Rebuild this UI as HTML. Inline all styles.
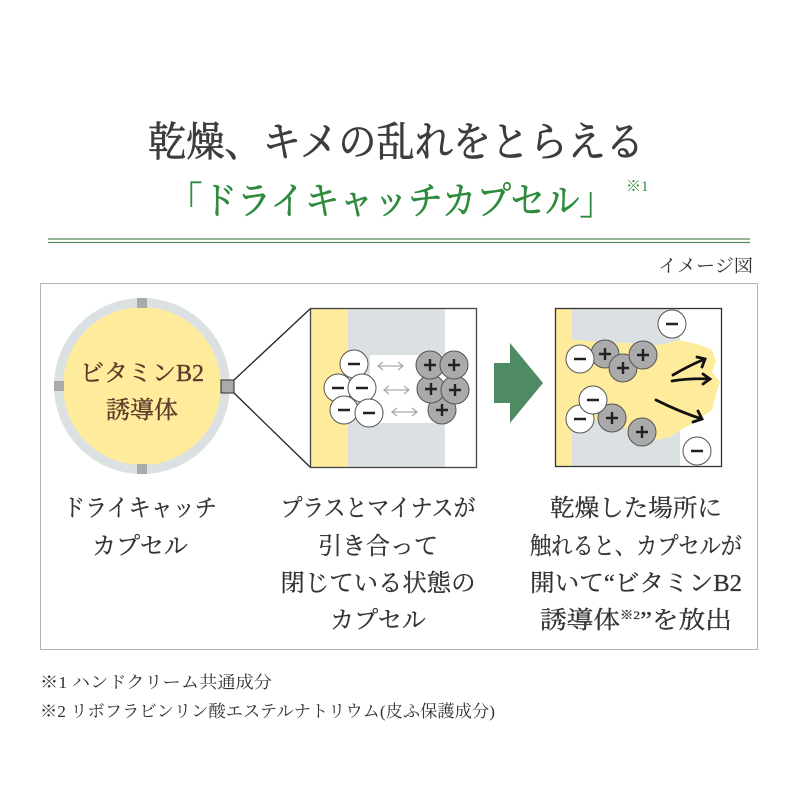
<!DOCTYPE html>
<html><head><meta charset="utf-8"><style>
html,body{margin:0;padding:0;background:#fff}
svg{display:block}
.s{font-family:"Liberation Serif","Noto Serif CJK JP","Noto Serif CJK SC",serif}
</style></head><body>
<svg width="800" height="800" viewBox="0 0 800 800" xmlns="http://www.w3.org/2000/svg" class="s">
<text x="396" y="156" font-size="41" fill="#3d3d3d" stroke="#3d3d3d" stroke-width="0.7" text-anchor="middle" textLength="496" lengthAdjust="spacingAndGlyphs">乾燥、キメの乱れをとらえる</text>
<text x="168" y="214" font-size="38" fill="#2e8b3e" stroke="#2e8b3e" stroke-width="0.6" textLength="446" lengthAdjust="spacingAndGlyphs">「ドライキャッチカプセル」</text>
<text x="626" y="191" font-size="15" fill="#2e8b3e">※1</text>
<line x1="48" y1="239" x2="750" y2="239" stroke="#5a8a5e" stroke-width="1.2"/>
<line x1="48" y1="242.5" x2="750" y2="242.5" stroke="#5a8a5e" stroke-width="1.2"/>
<text x="753" y="272" font-size="18" fill="#333" text-anchor="end" textLength="95" lengthAdjust="spacingAndGlyphs">イメージ図</text>
<rect x="40.5" y="283.5" width="717" height="366" fill="none" stroke="#b5b5b5" stroke-width="1"/>

<circle cx="142" cy="386" r="83.5" fill="#ffeb9c" stroke="#dbe1e3" stroke-width="9"/>
<rect x="137" y="298" width="10" height="10" fill="#aaa"/>
<rect x="137" y="464" width="10" height="10" fill="#aaa"/>
<rect x="54" y="381" width="10" height="10" fill="#aaa"/>
<rect x="221" y="380" width="13" height="13" fill="#aaa" stroke="#444" stroke-width="1.2"/>
<text x="142" y="381" font-size="24" fill="#5a3e2b" stroke="#5a3e2b" stroke-width="0.4" text-anchor="middle">ビタミンB2</text>
<text x="142" y="418" font-size="24" fill="#5a3e2b" stroke="#5a3e2b" stroke-width="0.4" text-anchor="middle">誘導体</text>
<line x1="234" y1="380" x2="310" y2="309" stroke="#222" stroke-width="1.3"/>
<line x1="234" y1="393" x2="310" y2="467" stroke="#222" stroke-width="1.3"/>

<rect x="310" y="308" width="38" height="160" fill="#ffeb9c"/>
<rect x="348" y="308" width="97" height="160" fill="#dbe1e3"/>
<rect x="370" y="355" width="75" height="68" fill="#fff"/>
<rect x="310.5" y="308.5" width="166" height="159" fill="none" stroke="#444" stroke-width="1.3"/>
<g stroke="#aaa" stroke-width="1.3" fill="none">
<path d="M378 366h25M383 362l-5 4 5 4M398 362l5 4-5 4"/>
<path d="M384 390h25M389 386l-5 4 5 4M404 386l5 4-5 4"/>
<path d="M392 412h25M397 408l-5 4 5 4M412 408l5 4-5 4"/>
</g>
<g stroke="#555" stroke-width="1" fill="#fff">
<circle cx="354" cy="364" r="14"/><circle cx="338" cy="388" r="14"/><circle cx="362" cy="388" r="14"/><circle cx="344" cy="410" r="14"/><circle cx="369" cy="413" r="14"/>
</g>
<g stroke="#555" stroke-width="1" fill="#aaa">
<circle cx="442" cy="410" r="14"/><circle cx="431" cy="389" r="14"/><circle cx="455" cy="390" r="14"/><circle cx="430" cy="365" r="14"/><circle cx="454" cy="365" r="14"/>
</g>
<g stroke="#222" stroke-width="2.4">
<path d="M348 364h12M332 388h12M356 388h12M338 410h12M363 413h12"/>
<path d="M424 365h12M430 359v12M448 365h12M454 359v12M425 389h12M431 383v12M449 390h12M455 384v12M436 410h12M442 404v12"/>
</g>

<polygon points="494,363 510,363 510,343 543,383 510,423 510,403 494,403" fill="#4f8b62"/>

<rect x="555" y="308" width="167" height="159" fill="#fff"/>
<rect x="555" y="308" width="17" height="159" fill="#ffeb9c"/>
<rect x="572" y="308" width="108" height="159" fill="#dbe1e3"/>
<path d="M572 340 L660 345 L680 340 L700 345 L712 350 L716 362 L712 372 L720 382 L716 394 L712 410 L700 418 L690 425 L680 430 L670 437 L655 440 L640 438 L620 425 L600 420 L572 420 Z" fill="#ffeb9c"/>
<rect x="555.5" y="308.5" width="166" height="158" fill="none" stroke="#333" stroke-width="1.3"/>
<g stroke="#555" stroke-width="1" fill="#aaa">
<circle cx="605" cy="354" r="14"/><circle cx="623" cy="368" r="14"/><circle cx="643" cy="355" r="14"/>
<circle cx="612" cy="418" r="14"/><circle cx="642" cy="432" r="14"/>
</g>
<g stroke="#555" stroke-width="1" fill="#fff">
<circle cx="580" cy="359" r="14"/><circle cx="672" cy="324" r="14"/>
<circle cx="580" cy="419" r="14"/><circle cx="593" cy="400" r="14"/><circle cx="697" cy="451" r="14"/>
</g>
<g stroke="#222" stroke-width="2.4">
<path d="M574 359h12M666 324h12M574 419h12M587 400h12M691 451h12"/>
<path d="M599 354h12M605 348v12M617 368h12M623 362v12M637 355h12M643 349v12M606 418h12M612 412v12M636 432h12M642 426v12"/>
</g>
<g stroke="#111" stroke-width="2.8" fill="none" stroke-linecap="round">
<path d="M673 375 Q690 365 705 359M697 357l8 2-3 8"/>
<path d="M672 381 Q690 378 710 379M703 374l7 5-7 5"/>
<path d="M656 400 Q680 412 702 419M693 422l9-3-4-8"/>
</g>

<g font-size="24" fill="#333" stroke="#333" stroke-width="0.3" text-anchor="middle">
<text x="140" y="516" textLength="154" lengthAdjust="spacingAndGlyphs">ドライキャッチ</text>
<text x="140" y="554">カプセル</text>
<text x="378" y="516" textLength="195" lengthAdjust="spacingAndGlyphs">プラスとマイナスが</text>
<text x="378" y="554">引き合って</text>
<text x="378" y="591" textLength="195" lengthAdjust="spacingAndGlyphs">閉じている状態の</text>
<text x="378" y="628">カプセル</text>
<text x="636" y="516" textLength="172" lengthAdjust="spacingAndGlyphs">乾燥した場所に</text>
<text x="636" y="554" textLength="212" lengthAdjust="spacingAndGlyphs">触れると、カプセルが</text>
<text x="636" y="591" textLength="212" lengthAdjust="spacingAndGlyphs">開いて“ビタミンB2</text>
<text x="636" y="628" textLength="192" lengthAdjust="spacingAndGlyphs">誘導体<tspan font-size="12" dy="-9">※2</tspan><tspan dy="9">”を放出</tspan></text>
</g>
<text x="40" y="688" font-size="17" fill="#333" textLength="232" lengthAdjust="spacingAndGlyphs">※1 ハンドクリーム共通成分</text>
<text x="40" y="717" font-size="17" fill="#333" textLength="455" lengthAdjust="spacingAndGlyphs">※2 リボフラビンリン酸エステルナトリウム(皮ふ保護成分)</text>
</svg>
</body></html>
